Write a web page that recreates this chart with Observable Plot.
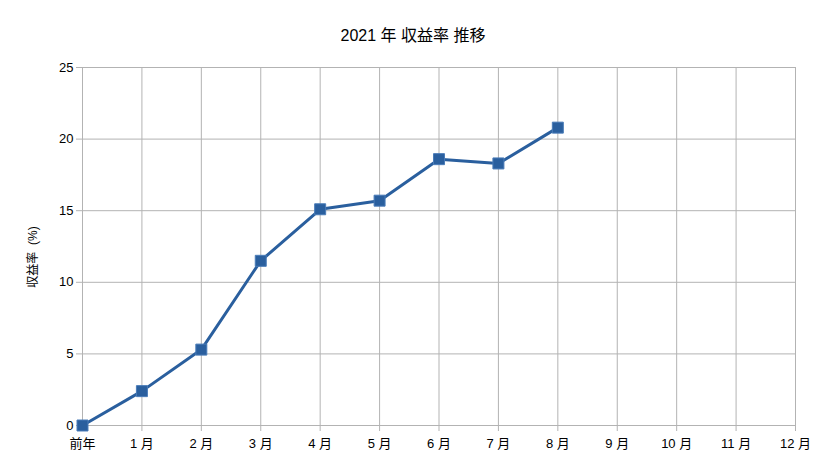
<!DOCTYPE html>
<html><head><meta charset="utf-8">
<script src="https://cdn.jsdelivr.net/npm/d3@7"></script>
<script src="https://cdn.jsdelivr.net/npm/@observablehq/plot@0.6"></script>
<style>
body{margin:0;background:#fff;}
#chart svg{font-family:"Liberation Sans","Noto Sans CJK JP",sans-serif;}
</style>
</head><body><div id="chart"></div>
<script>
const title = "2021 年 収益率 推移";
const yLabel = "収益率 (%)";
const months = ["前年","1 月","2 月","3 月","4 月","5 月","6 月","7 月","8 月","9 月","10 月","11 月","12 月"];
const dataMonths = ["前年","1 月","2 月","3 月","4 月","5 月","6 月","7 月","8 月"];
const returns = [0, 2.4, 5.3, 11.5, 15.1, 15.7, 18.6, 18.3, 20.8];
const yTicks = [0, 5, 10, 15, 20, 25];

const data = dataMonths.map((m, i) => ({month: m, value: returns[i]}));
const color = "#2a5f9e";
const grid = "#b3b3b3";

const chart = Plot.plot({
  width: 826, height: 463,
  marginLeft: 82, marginRight: 31, marginTop: 67, marginBottom: 38,
  style: {fontFamily: '"Liberation Sans","Noto Sans CJK JP",sans-serif', fontSize: "13px", color: "#000", background: "#fff"},
  x: {type: "point", domain: months, padding: 0, round: false},
  y: {domain: [0, 25]},
  marks: [
    Plot.gridX(months, {stroke: grid, strokeOpacity: 1}),
    Plot.gridY(yTicks, {stroke: grid, strokeOpacity: 1}),
    Plot.ruleY([0], {stroke: grid, strokeOpacity: 1}),
    Plot.ruleX([months[0]], {stroke: grid, strokeOpacity: 1}),
    Plot.axisX(months, {tickSize: 6, tickPadding: 7, stroke: grid, fontSize: 13, label: null}),
    Plot.axisY(yTicks, {tickSize: 6, tickPadding: 3, stroke: grid, fontSize: 13, label: null}),
    Plot.line(data, {x: "month", y: "value", stroke: color, strokeWidth: 3}),
    Plot.dot(data, {x: "month", y: "value", symbol: "square", r: 6.2, fill: color, stroke: "#4a7cb8", strokeWidth: 1})
  ]
});
const svg = d3.select(chart);
svg.append("text")
  .attr("x", 413).attr("y", 35)
  .attr("text-anchor", "middle").attr("dominant-baseline", "central")
  .attr("font-size", 16).attr("fill", "#000")
  .text(title);
svg.append("text")
  .attr("transform", "translate(33,257) rotate(-90)")
  .attr("text-anchor", "middle").attr("dominant-baseline", "central")
  .attr("font-size", 12).attr("fill", "#000")
  .attr("xml:space", "preserve")
  .style("white-space", "pre")
  .text("収益率  (%)");
document.getElementById("chart").append(chart);
</script>
</body></html>
